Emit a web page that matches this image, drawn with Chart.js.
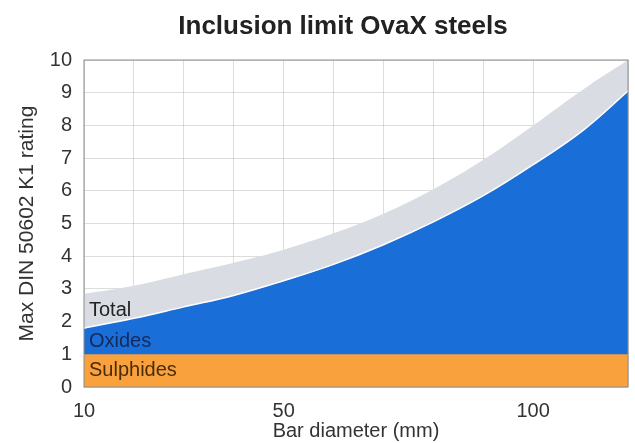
<!DOCTYPE html>
<html>
<head>
<meta charset="utf-8">
<script src="https://cdn.jsdelivr.net/npm/chart.js@4.4.1/dist/chart.umd.min.js"></script>
<style>
  body { margin: 0; background: #fff; }
  #wrap { width: 635px; height: 443px; }
</style>
</head>
<body>
<div id="wrap"><canvas id="chart"></canvas></div>
<script>
// bar diameter (mm)
const xValues = [10, 20, 30, 40, 50, 60, 70, 80, 90, 100, 110, 119];
// max K1 rating, upper edge of each band
const totalValues = [2.85, 3.1, 3.45, 3.8, 4.2, 4.7, 5.3, 6.05, 6.95, 8.0, 9.1, 10.0];
const oxideValues = [1.8, 2.1, 2.45, 2.8, 3.25, 3.75, 4.35, 5.05, 5.85, 6.8, 7.85, 9.05];
const sulphideValues = [1, 1, 1, 1, 1, 1, 1, 1, 1, 1, 1, 1];
const xTickLabels = [10, 50, 100];
const bandLabels = ['Total', 'Oxides', 'Sulphides'];
const chartTitle = 'Inclusion limit OvaX steels';

const FONT = "'Liberation Sans', Arial, sans-serif";
const GRID = 'rgba(175,175,175,0.42)';

function toPoints(values) {
    return xValues.map((x, i) => ({ x: x, y: values[i] }));
}

// title, band names and plot frame
const decorPlugin = {
    id: 'decor',
    afterDraw(chart) {
        const { ctx, chartArea, scales } = chart;
        ctx.save();

        ctx.fillStyle = '#222222';
        ctx.font = 'bold 26px ' + FONT;
        ctx.textAlign = 'center';
        ctx.textBaseline = 'middle';
        ctx.fillText(chartTitle, (chartArea.left + chartArea.right) / 2 - 13, 27);

        const mids = [
            (oxideValues[0] + totalValues[0]) / 2,
            (sulphideValues[0] + oxideValues[0]) / 2,
            sulphideValues[0] / 2
        ];
        const colors = ['#222222', '#15295a', '#4a2c08'];
        ctx.font = '20px ' + FONT;
        ctx.textAlign = 'left';
        bandLabels.forEach((txt, i) => {
            ctx.fillStyle = colors[i];
            ctx.fillText(txt, chartArea.left + 5, scales.y.getPixelForValue(mids[i]));
        });

        ctx.strokeStyle = '#8c8c8c';
        ctx.lineWidth = 1;
        ctx.strokeRect(chartArea.left, chartArea.top, chartArea.right - chartArea.left, chartArea.bottom - chartArea.top);
        ctx.restore();
    }
};

const area = (label, values, color, order, border) => ({
    label: label,
    data: toPoints(values),
    backgroundColor: color,
    borderColor: border ? '#ffffff' : color,
    borderWidth: border ? 1.5 : 0,
    fill: 'origin',
    pointRadius: 0,
    tension: 0.4,
    order: order
});

new Chart(document.getElementById('chart'), {
    type: 'line',
    data: {
        datasets: [
            area('Sulphides', sulphideValues, '#f9a23d', 1, false),
            area('Oxides', oxideValues, '#1a6ed7', 2, true),
            area('Total', totalValues, '#d9dde3', 3, false)
        ]
    },
    options: {
        responsive: true,
        maintainAspectRatio: false,
        animation: false,
        layout: { padding: { left: 10, right: 7, top: 60, bottom: 0 } },
        plugins: {
            legend: { display: false },
            tooltip: { enabled: false },
            title: { display: false }
        },
        scales: {
            x: {
                type: 'linear',
                min: 10,
                max: 119,
                z: 1,
                grid: { color: GRID, drawTicks: false },
                border: { display: false },
                ticks: {
                    stepSize: 10,
                    padding: 12,
                    color: '#333333',
                    font: { family: FONT, size: 20 },
                    maxRotation: 0,
                    autoSkip: false,
                    callback: v => xTickLabels.includes(v) ? String(v) : ''
                },
                title: {
                    display: true,
                    text: 'Bar diameter (mm)',
                    color: '#333333',
                    font: { family: FONT, size: 20 },
                    padding: { top: 0, bottom: 0 }
                },
                afterFit: s => {
                    s.height = 56;
                    s.paddingLeft = 0;
                    s.paddingRight = 0;
                }
            },
            y: {
                min: 0,
                max: 10,
                z: 1,
                grid: { color: GRID, drawTicks: false },
                border: { display: false },
                ticks: {
                    stepSize: 1,
                    padding: 12,
                    color: '#333333',
                    font: { family: FONT, size: 20 }
                },
                title: {
                    display: true,
                    text: 'Max DIN 50602 K1 rating',
                    color: '#333333',
                    font: { family: FONT, size: 21 },
                    padding: { top: 5, bottom: 4 }
                },
                afterFit: s => { s.width = 74; }
            }
        }
    },
    plugins: [decorPlugin]
});
</script>
</body>
</html>
